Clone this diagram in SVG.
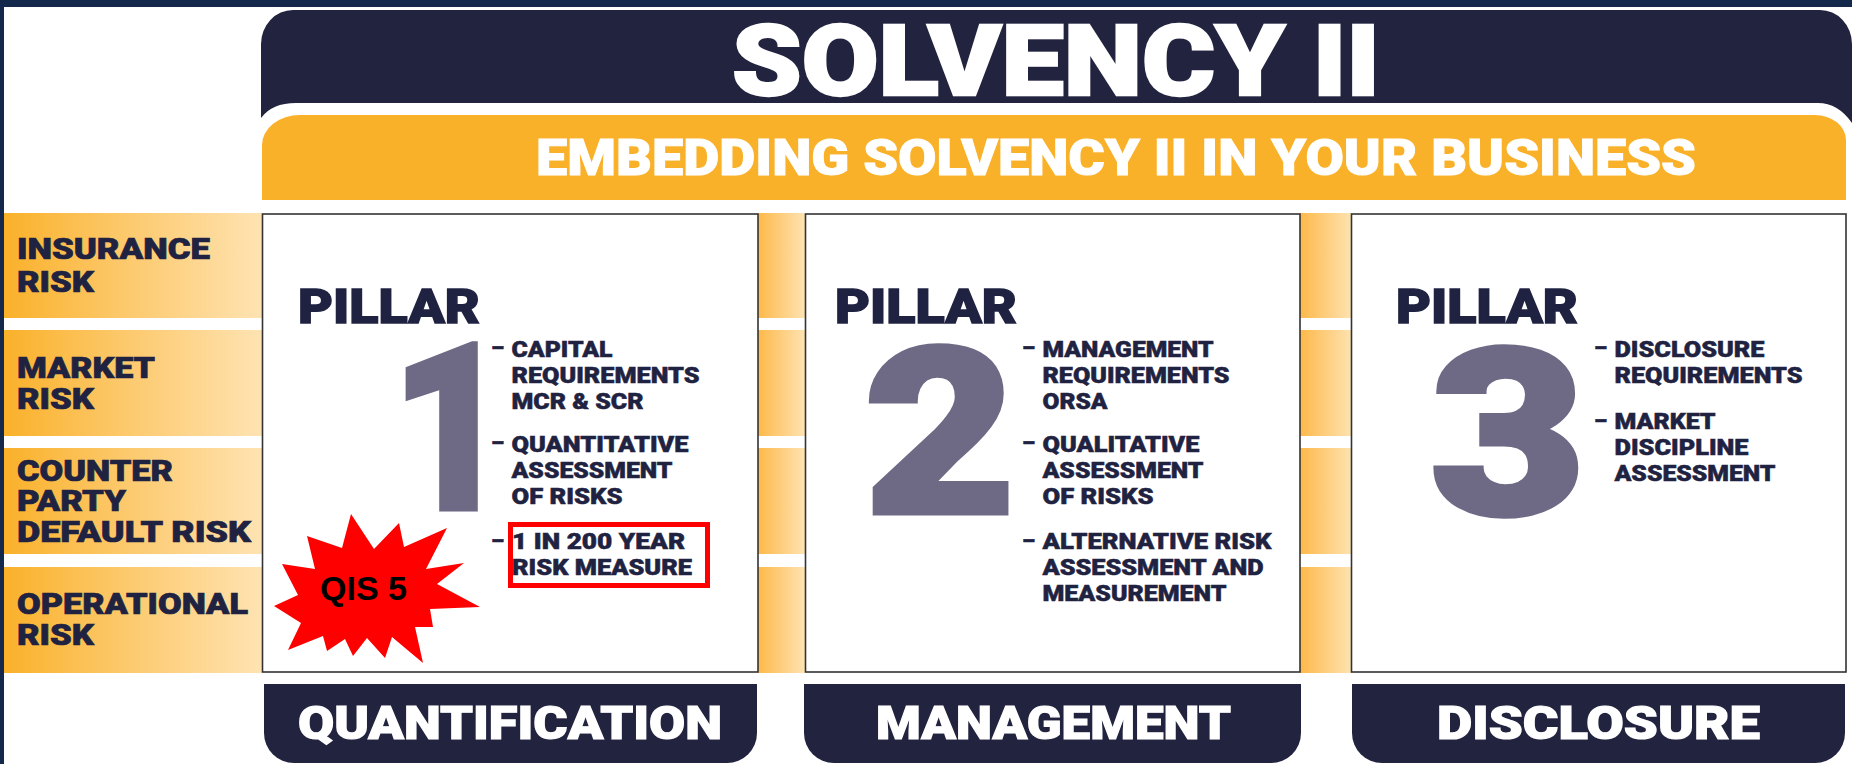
<svg xmlns="http://www.w3.org/2000/svg" width="1852" height="764" viewBox="0 0 1852 764">
<style>
text{font-family:Roboto,"Liberation Sans",sans-serif;font-weight:900}
.w{fill:#fff;stroke:#fff}
.d{fill:#1f2240;stroke:#1f2240}
.title{font-size:98px;stroke-width:2.4px}
.sub{font-size:50px;stroke-width:1px}
.pil{font-size:48px;stroke-width:1.4px}
.b{font-size:21.5px;fill:#1f2240;stroke:#1f2240;stroke-width:.5px}
.l{font-size:29px;fill:#1f2240;stroke:#1f2240;stroke-width:.7px}
.tab{font-size:45.5px;fill:#fff;stroke:#fff;stroke-width:1.2px}
.n{font-size:232px;fill:#6e6a85;stroke:#6e6a85;stroke-width:5px}
.box{fill:#fff;stroke:#333;stroke-width:1.6}
.nav{fill:#22243f}
</style>
<defs>
<linearGradient id="gl" x1="0" x2="1" y1="0" y2="0"><stop offset="0" stop-color="#fab12a"/><stop offset="0.35" stop-color="#fcc35c"/><stop offset="1" stop-color="#fee3b2"/></linearGradient>
<linearGradient id="gg" x1="0" x2="1" y1="0" y2="0"><stop offset="0" stop-color="#fdb94a"/><stop offset="1" stop-color="#fee3b2"/></linearGradient>
</defs>
<rect width="1852" height="764" fill="#fff"/>
<rect width="1852" height="7" fill="#14284b"/>
<rect width="4" height="764" fill="#14284b"/>
<g id="header">
<path class="nav" d="M261,118 V44 A32 34 0 0 1 293,10 H1820 A32 34 0 0 1 1852,44 V123 Q1838,103 1818,103 H296 Q272,103 261,118 Z"/>
<text class="title w" x="732" y="94.5" textLength="648" lengthAdjust="spacingAndGlyphs">SOLVENCY II</text>
</g>
<g id="subheader">
<path fill="#fab12a" d="M262,200 V145 A38 30 0 0 1 300,115 H1815 A31 25 0 0 1 1846,140 V200 Z"/>
<text class="sub w" x="536" y="175" textLength="1160" lengthAdjust="spacingAndGlyphs">EMBEDDING SOLVENCY II IN YOUR BUSINESS</text>
</g>
<g id="risk-bands">
<rect x="4" y="213" width="258" height="105" fill="url(#gl)"/>
<rect x="4" y="330" width="258" height="106" fill="url(#gl)"/>
<rect x="4" y="448" width="258" height="106" fill="url(#gl)"/>
<rect x="4" y="567" width="258" height="106" fill="url(#gl)"/>
<rect x="758" y="213" width="47" height="105" fill="url(#gg)"/>
<rect x="758" y="330" width="47" height="106" fill="url(#gg)"/>
<rect x="758" y="448" width="47" height="106" fill="url(#gg)"/>
<rect x="758" y="567" width="47" height="106" fill="url(#gg)"/>
<rect x="1300" y="213" width="52" height="105" fill="url(#gg)"/>
<rect x="1300" y="330" width="52" height="106" fill="url(#gg)"/>
<rect x="1300" y="448" width="52" height="106" fill="url(#gg)"/>
<rect x="1300" y="567" width="52" height="106" fill="url(#gg)"/>
</g>
<g id="risk-labels">
<text class="l" x="17" y="259" textLength="193" lengthAdjust="spacingAndGlyphs">INSURANCE</text>
<text class="l" x="17" y="292" textLength="77" lengthAdjust="spacingAndGlyphs">RISK</text>
<text class="l" x="17" y="378" textLength="138" lengthAdjust="spacingAndGlyphs">MARKET</text>
<text class="l" x="17" y="409" textLength="77" lengthAdjust="spacingAndGlyphs">RISK</text>
<text class="l" x="17" y="481" textLength="156" lengthAdjust="spacingAndGlyphs">COUNTER</text>
<text class="l" x="17" y="511" textLength="109" lengthAdjust="spacingAndGlyphs">PARTY</text>
<text class="l" x="17" y="542" textLength="234" lengthAdjust="spacingAndGlyphs">DEFAULT RISK</text>
<text class="l" x="17" y="614" textLength="231" lengthAdjust="spacingAndGlyphs">OPERATIONAL</text>
<text class="l" x="17" y="645" textLength="77" lengthAdjust="spacingAndGlyphs">RISK</text>
</g>
<g id="pillar-1">
<rect class="box" x="262.5" y="214" width="495.5" height="458"/>
<text class="pil d" x="298" y="323" textLength="182" lengthAdjust="spacingAndGlyphs">PILLAR</text>
<text class="n" x="391" y="509" textLength="120" lengthAdjust="spacingAndGlyphs">1</text>
<text class="b" x="491" y="355" textLength="13" lengthAdjust="spacingAndGlyphs">–</text>
<text class="b" x="511.5" y="357" textLength="101" lengthAdjust="spacingAndGlyphs">CAPITAL</text>
<text class="b" x="511.5" y="383" textLength="188" lengthAdjust="spacingAndGlyphs">REQUIREMENTS</text>
<text class="b" x="511.5" y="409" textLength="132" lengthAdjust="spacingAndGlyphs">MCR &amp; SCR</text>
<text class="b" x="491" y="450" textLength="13" lengthAdjust="spacingAndGlyphs">–</text>
<text class="b" x="511.5" y="452" textLength="177" lengthAdjust="spacingAndGlyphs">QUANTITATIVE</text>
<text class="b" x="511.5" y="478" textLength="161" lengthAdjust="spacingAndGlyphs">ASSESSMENT</text>
<text class="b" x="511.5" y="504" textLength="111" lengthAdjust="spacingAndGlyphs">OF RISKS</text>
<text class="b" x="491" y="548" textLength="13" lengthAdjust="spacingAndGlyphs">–</text>
<text class="b" x="512" y="549" textLength="173" lengthAdjust="spacingAndGlyphs">1 IN 200 YEAR</text>
<text class="b" x="512" y="575" textLength="180" lengthAdjust="spacingAndGlyphs">RISK MEASURE</text>
</g>
<g id="pillar-1-tab">
<path class="nav" d="M264,684 H757 V733 A30 30 0 0 1 727,763 H294 A30 30 0 0 1 264,733 Z"/>
<text class="tab" x="298" y="738.5" textLength="424" lengthAdjust="spacingAndGlyphs">QUANTIFICATION</text>
</g>
<g id="pillar-2">
<rect class="box" x="805.5" y="214" width="494.5" height="458"/>
<text class="pil d" x="835" y="323" textLength="182" lengthAdjust="spacingAndGlyphs">PILLAR</text>
<text class="n" x="864" y="513" textLength="152" lengthAdjust="spacingAndGlyphs">2</text>
<text class="b" x="1022" y="355" textLength="13" lengthAdjust="spacingAndGlyphs">–</text>
<text class="b" x="1042.5" y="357" textLength="171" lengthAdjust="spacingAndGlyphs">MANAGEMENT</text>
<text class="b" x="1042.5" y="383" textLength="187" lengthAdjust="spacingAndGlyphs">REQUIREMENTS</text>
<text class="b" x="1042.5" y="409" textLength="65" lengthAdjust="spacingAndGlyphs">ORSA</text>
<text class="b" x="1022" y="450" textLength="13" lengthAdjust="spacingAndGlyphs">–</text>
<text class="b" x="1042.5" y="452" textLength="157" lengthAdjust="spacingAndGlyphs">QUALITATIVE</text>
<text class="b" x="1042.5" y="478" textLength="161" lengthAdjust="spacingAndGlyphs">ASSESSMENT</text>
<text class="b" x="1042.5" y="504" textLength="111" lengthAdjust="spacingAndGlyphs">OF RISKS</text>
<text class="b" x="1022" y="548" textLength="13" lengthAdjust="spacingAndGlyphs">–</text>
<text class="b" x="1042.5" y="549" textLength="229" lengthAdjust="spacingAndGlyphs">ALTERNATIVE RISK</text>
<text class="b" x="1042.5" y="575" textLength="221" lengthAdjust="spacingAndGlyphs">ASSESSMENT AND</text>
<text class="b" x="1042.5" y="601" textLength="184" lengthAdjust="spacingAndGlyphs">MEASUREMENT</text>
</g>
<g id="pillar-2-tab">
<path class="nav" d="M804,684 H1301 V733 A30 30 0 0 1 1271,763 H834 A30 30 0 0 1 804,733 Z"/>
<text class="tab" x="876" y="738.5" textLength="355" lengthAdjust="spacingAndGlyphs">MANAGEMENT</text>
</g>
<g id="pillar-3">
<rect class="box" x="1351.5" y="214" width="494.5" height="458"/>
<text class="pil d" x="1396" y="323" textLength="182" lengthAdjust="spacingAndGlyphs">PILLAR</text>
<text class="n" x="1430" y="514" textLength="156" lengthAdjust="spacingAndGlyphs">3</text>
<text class="b" x="1594" y="355" textLength="13" lengthAdjust="spacingAndGlyphs">–</text>
<text class="b" x="1614.5" y="357" textLength="150" lengthAdjust="spacingAndGlyphs">DISCLOSURE</text>
<text class="b" x="1614.5" y="383" textLength="188" lengthAdjust="spacingAndGlyphs">REQUIREMENTS</text>
<text class="b" x="1594" y="428" textLength="13" lengthAdjust="spacingAndGlyphs">–</text>
<text class="b" x="1614.5" y="429" textLength="101" lengthAdjust="spacingAndGlyphs">MARKET</text>
<text class="b" x="1614.5" y="455" textLength="134" lengthAdjust="spacingAndGlyphs">DISCIPLINE</text>
<text class="b" x="1614.5" y="481" textLength="161" lengthAdjust="spacingAndGlyphs">ASSESSMENT</text>
</g>
<g id="pillar-3-tab">
<path class="nav" d="M1352,684 H1845 V733 A30 30 0 0 1 1815,763 H1382 A30 30 0 0 1 1352,733 Z"/>
<text class="tab" x="1437" y="738.5" textLength="323" lengthAdjust="spacingAndGlyphs">DISCLOSURE</text>
</g>
<g id="highlight">
<rect x="510.5" y="524.5" width="197" height="61" fill="none" stroke="#f00" stroke-width="5"/>
</g>
<g id="qis5">
<polygon fill="#f00" points="351,514 374,549 399,523 404,547 447,528 426,569 464,563 437,584 480,607 430,609 433,627 415,627 423,663 392,637 385,658 367,638 353,656 345,639 327,651 323,636 288,650 301,623 274,606 298,595 282,564 315,569 307,536 342,548"/>
<text x="320" y="600" textLength="87" lengthAdjust="spacingAndGlyphs" style="font-family:'Liberation Sans',sans-serif;font-weight:700;font-size:34px;fill:#000">QIS 5</text>
</g>
</svg>
